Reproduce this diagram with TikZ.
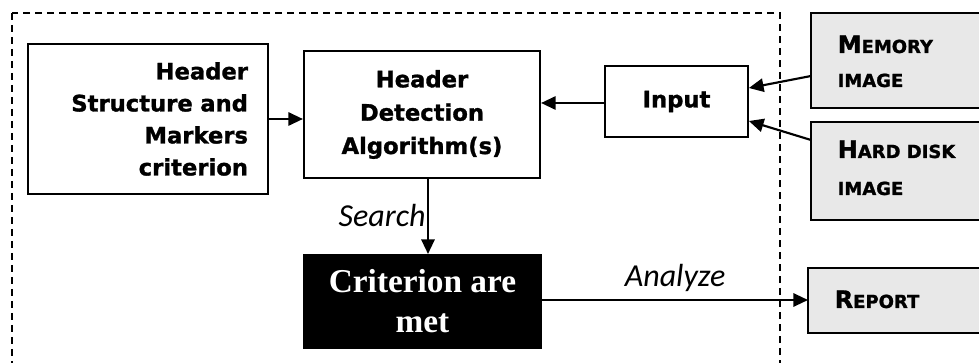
\documentclass[tikz,border=0pt]{standalone}
\usepackage{fontspec}
\setmainfont{Liberation Serif}
\setsansfont{DejaVu Sans}[BoldFeatures={FakeBold=1.3}]
\newfontfamily\labelfont{Carlito}
\usepackage{tikz}
\usetikzlibrary{arrows.meta, positioning}
\definecolor{boxgray}{HTML}{E8E8E8}
\tikzstyle{block} = [rectangle, draw=black, line width=1.6pt, font=\sffamily\bfseries\fontsize{17}{24}\selectfont]
\tikzstyle{frame} = [line width=1.6pt]
\tikzstyle{arrow} = [line width=1.6pt, -{Triangle[length=11pt,width=10pt]}]
\tikzstyle{edgelabel} = [font=\labelfont\itshape\fontsize{24}{28}\selectfont]
\tikzstyle{sctext} = [anchor=base west, font=\sffamily\bfseries]
\newcommand{\bigsc}[2]{{\fontsize{18}{22}\selectfont #1}{\fontsize{13.5}{22}\selectfont #2}}
\newcommand{\smallsc}[1]{{\fontsize{13.5}{22}\selectfont #1}}
\begin{document}
\begin{tikzpicture}[x=0.75pt, y=-0.75pt]
\useasboundingbox (0,0) rectangle (979,363);
\clip (0,0) rectangle (979,363);
% enclosing frame
\draw [line width=1pt, dash pattern=on 5pt off 4pt] (12,13) rectangle (780,400);
% main blocks
\node (criteria) [block, minimum width=180pt, minimum height=112.5pt, text width=150pt, inner xsep=15pt, align=right] at (148,119) {Header\\Structure and\\Markers\\criterion};
\node (detect) [block, minimum width=177pt, minimum height=95pt, align=center, font=\sffamily\bfseries\fontsize{17}{25}\selectfont] at (422,114.5) {Header\\Detection\\Algorithm(s)};
\node (input) [block, minimum width=107pt, minimum height=53pt] at (676.5,101.5) {Input};
\node (met) [rectangle, fill=black, text=white, minimum width=179pt, minimum height=71pt, align=center, font=\rmfamily\bfseries\fontsize{25}{30}\selectfont] at (422.5,301.5) {Criterion are\\met};
% sources and output (cut off at the right edge)
\fill [boxgray] (811,13) rectangle (1000,108);
\draw [frame] (1000,13) -- (811,13) -- (811,108) -- (1000,108);
\fill [boxgray] (811,122) rectangle (1000,220);
\draw [frame] (1000,122) -- (811,122) -- (811,220) -- (1000,220);
\fill [boxgray] (808,268) rectangle (1000,333);
\draw [frame] (1000,268) -- (808,268) -- (808,333) -- (1000,333);
\coordinate (memory) at (811,76);
\coordinate (disk) at (811,140);
\coordinate (report) at (808,300);
\node (memtxt) [sctext] at (833,53) {\bigsc{M}{EMORY}};
\node (memimg) [sctext] at (833,87) {\smallsc{IMAGE}};
\node (disktxt) [sctext] at (833,158) {\bigsc{H}{ARD DISK}};
\node (diskimg) [sctext] at (833,195) {\smallsc{IMAGE}};
\node (reptxt) [sctext] at (830,308) {\bigsc{R}{EPORT}};
% connectors
\draw [arrow] (criteria.east) -- (detect.west |- criteria.east);
\draw [arrow] (input.west |- 0,103) -- (detect.east |- 0,103);
\draw [arrow] (memory) -- (input.east |- 0,88);
\draw [arrow] (disk) -- (input.east |- 0,121);
\draw [arrow] (428,178) -- (428,254) node [edgelabel, midway, left, inner sep=1pt] {Search};
\draw [arrow] (met.east |- report) -- (report) node [edgelabel, pos=0.5, above=2pt] {Analyze};
\end{tikzpicture}
\end{document}
